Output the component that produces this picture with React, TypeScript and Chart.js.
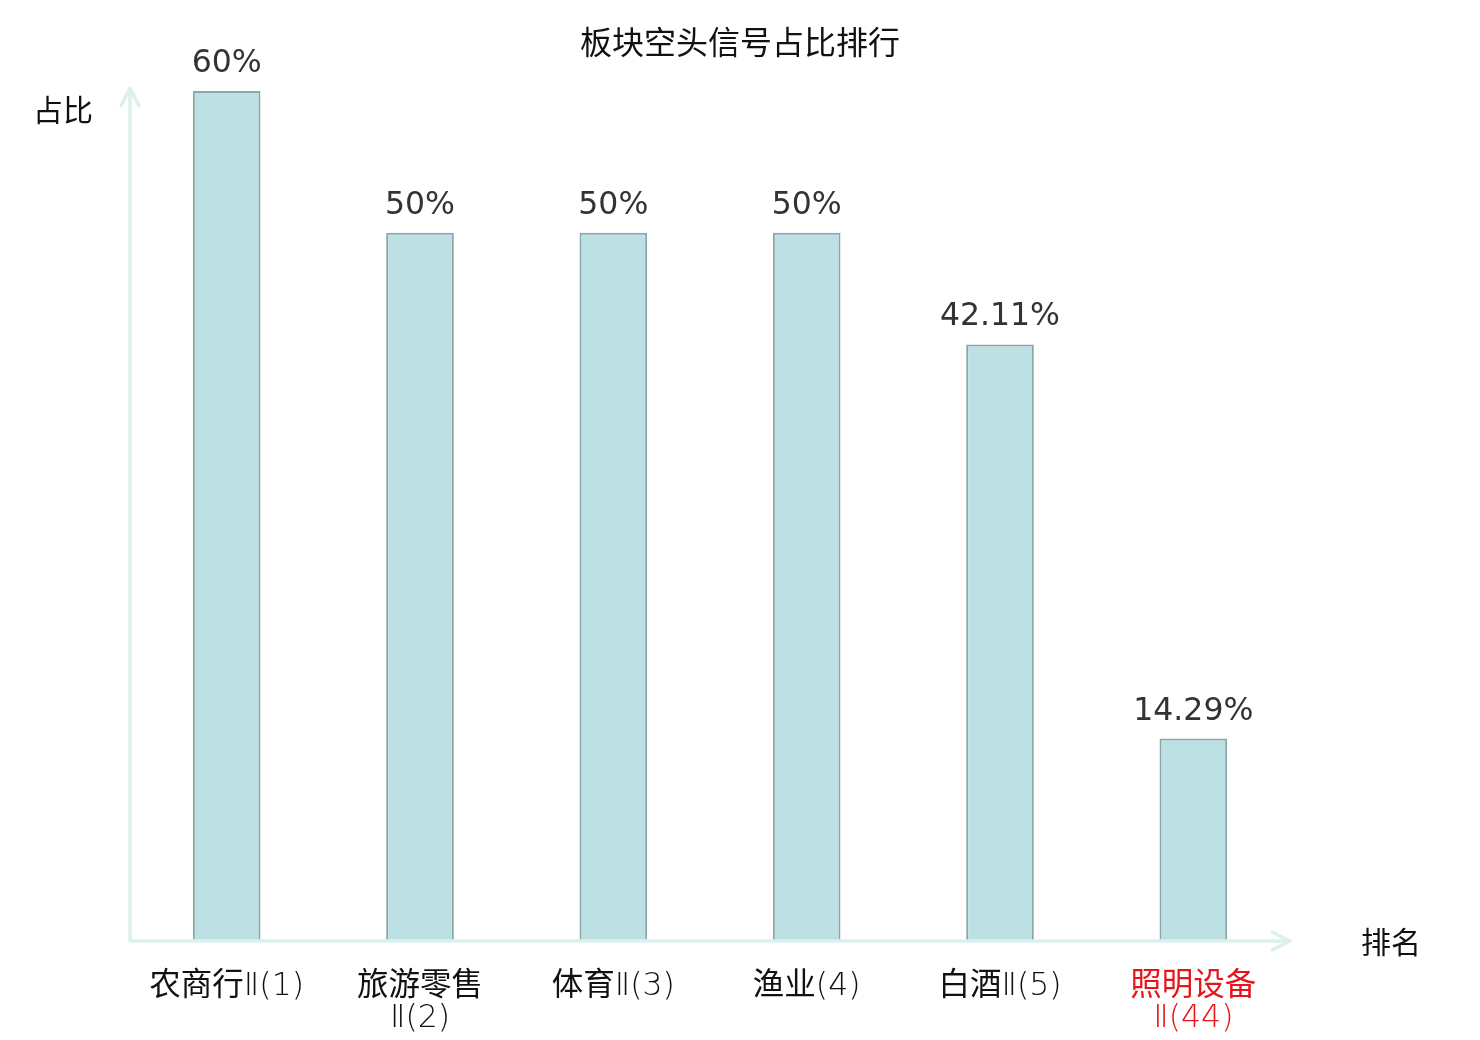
import React, { useEffect, useRef } from 'react';
import { Chart, registerables, Plugin } from 'chart.js';

Chart.register(...registerables);

const categories = ['农商行Ⅱ(1)', '旅游零售Ⅱ(2)', '体育Ⅱ(3)', '渔业(4)', '白酒Ⅱ(5)', '照明设备Ⅱ(44)'];
const ratios = [60, 50, 50, 50, 42.11, 14.29];
const highlighted = [false, false, false, false, false, true];

const chartTitle = '板块空头信号占比排行';
const yName = '占比';
const xName = '排名';

const AXIS_COLOR = '#dcf1ee';
const LATIN = '"DejaVu Sans", "Noto Sans CJK SC", sans-serif';
const CJK = '"Noto Sans CJK SC", "DejaVu Sans", sans-serif';
const TICK_FONT = '"DejaVu Sans Light", "Noto Sans CJK SC", sans-serif';

// long names wrap before the roman numeral
function wrapLabel(name: string): string | string[] {
  const i = name.indexOf('Ⅱ');
  if (i >= 4) return [name.slice(0, i), name.slice(i)];
  return name;
}

const decorations: Plugin<'bar'> = {
  id: 'decorations',
  afterDraw(chart) {
    const { ctx, chartArea } = chart;
    const { left, right, top, bottom } = chartArea;
    ctx.save();

    // axes with open arrow heads
    ctx.strokeStyle = AXIS_COLOR;
    ctx.lineWidth = 3.5;
    ctx.lineCap = 'round';
    ctx.lineJoin = 'round';
    ctx.beginPath();
    ctx.moveTo(left, bottom);
    ctx.lineTo(left, top - 3);
    ctx.moveTo(left - 9, top + 15);
    ctx.lineTo(left, top - 3);
    ctx.lineTo(left + 9, top + 15);
    ctx.moveTo(left, bottom);
    ctx.lineTo(right, bottom);
    ctx.moveTo(right - 18, bottom - 9);
    ctx.lineTo(right, bottom);
    ctx.lineTo(right - 18, bottom + 9);
    ctx.stroke();

    // title and axis names
    ctx.fillStyle = '#111';
    ctx.textBaseline = 'middle';
    ctx.font = `32px ${CJK}`;
    ctx.textAlign = 'center';
    ctx.fillText(chartTitle, chart.width / 2, 42);
    ctx.font = `30px ${CJK}`;
    ctx.textAlign = 'left';
    ctx.fillText(yName, 33, 110);
    ctx.fillText(xName, right + 71, bottom + 1);

    // value labels
    const meta = chart.getDatasetMeta(0);
    ctx.fillStyle = '#333';
    ctx.font = `31.5px ${LATIN}`;
    ctx.textAlign = 'center';
    ctx.textBaseline = 'alphabetic';
    meta.data.forEach((bar, i) => {
      ctx.fillText(`${ratios[i]}%`, bar.x, bar.y - 19);
    });
    ctx.restore();
  },
};

export default function App() {
  const canvasRef = useRef<HTMLCanvasElement>(null);
  const chartRef = useRef<Chart | null>(null);

  useEffect(() => {
    document.body.style.margin = '0';
    if (!canvasRef.current) return;
    if (chartRef.current) chartRef.current.destroy();

    chartRef.current = new Chart(canvasRef.current, {
      type: 'bar',
      data: {
        labels: categories.map(wrapLabel),
        datasets: [
          {
            data: ratios,
            backgroundColor: '#bce0e3',
            borderColor: '#87a7a8',
            borderWidth: 2,
            barPercentage: 0.35,
            categoryPercentage: 1,
          },
        ],
      },
      options: {
        responsive: false,
        animation: false,
        devicePixelRatio: 1,
        layout: { padding: { left: 130, right: 190, top: 91, bottom: 0 } },
        plugins: {
          legend: { display: false },
          tooltip: { enabled: false },
          title: { display: false },
        },
        scales: {
          x: {
            grid: { display: false, drawTicks: false },
            border: { display: false },
            afterFit(scale) {
              scale.height = 99;
            },
            ticks: {
              padding: 30,
              maxRotation: 0,
              autoSkip: false,
              font: { family: TICK_FONT, size: 31.5, lineHeight: 1.02 },
              color: (c) => (highlighted[c.index] ? '#e8141b' : '#111'),
            },
          },
          y: {
            display: false,
            min: 0,
            max: 60,
          },
        },
      },
      plugins: [decorations],
    });

    return () => {
      if (chartRef.current) {
        chartRef.current.destroy();
        chartRef.current = null;
      }
    };
  }, []);

  return (
    <div style={{ width: 1480, height: 1040, background: '#fff' }}>
      <canvas ref={canvasRef} width={1480} height={1040}></canvas>
    </div>
  );
}
